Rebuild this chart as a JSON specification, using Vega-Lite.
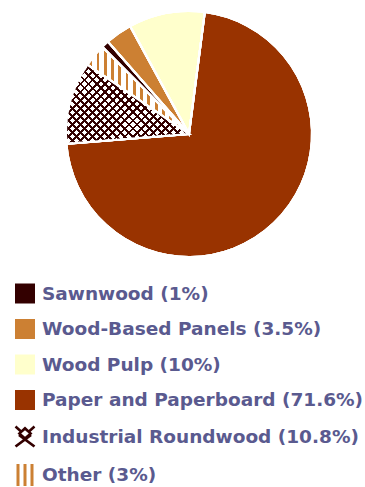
{
  "$schema": "https://vega.github.io/schema/vega-lite/v6.json",
  "width": 352,
  "height": 268,
  "autosize": "none",
  "padding": {"left": 13, "top": 0, "right": 0, "bottom": 219},
  "background": "white",
  "view": {"stroke": null},
  "data": {
    "values": [
      {"category": "Wood Pulp (10%)", "share": 10, "pos": 1},
      {"category": "Paper and Paperboard (71.6%)", "share": 71.6, "pos": 2},
      {"category": "Industrial Roundwood (10.8%)", "share": 10.8, "pos": 3},
      {"category": "Other (3%)", "share": 3, "pos": 4},
      {"category": "Sawnwood (1%)", "share": 1, "pos": 5},
      {"category": "Wood-Based Panels (3.5%)", "share": 3.5, "pos": 6}
    ]
  },
  "layer": [
    {
      "mark": {"type": "arc", "radius": 123, "stroke": "white", "strokeWidth": 2},
      "encoding": {
        "theta": {"field": "share", "type": "quantitative", "stack": true, "scale": {"range": [-0.5, 5.7832]}},
        "order": {"field": "pos", "type": "quantitative"},
        "color": {
          "field": "category",
          "type": "nominal",
          "scale": {
            "domain": ["Sawnwood (1%)", "Wood-Based Panels (3.5%)", "Wood Pulp (10%)", "Paper and Paperboard (71.6%)", "Industrial Roundwood (10.8%)", "Other (3%)"],
            "range": ["#330000", "#cc8033", "#ffffcc", "#993300", "#330000", "#cc8033"]
          },
          "legend": {
            "title": null,
            "orient": "none",
            "legendX": 2,
            "legendY": 283.5,
            "padding": 0,
            "symbolSize": 400,
            "symbolStrokeWidth": 0,
            "symbolOpacity": 1,
            "labelFont": "DejaVu Sans",
            "labelFontSize": 18.5,
            "labelFontWeight": "bold",
            "labelColor": "#5a5a8f",
            "labelOffset": 7,
            "labelLimit": 400,
            "rowPadding": 15.5
          }
        }
      }
    },
    {
      "mark": {"type": "arc", "radius": 123, "stroke": "white", "strokeWidth": 2},
      "encoding": {
        "theta": {"field": "share", "type": "quantitative", "stack": true},
        "order": {"field": "pos", "type": "quantitative"},
        "color": {
          "condition": [
            {
              "test": "datum.category === 'Industrial Roundwood (10.8%)'",
              "value": {
                "gradient": "linear", "x1": 0, "y1": 0, "x2": 1.163, "y2": 0.747,
                "stops": [
                  {"offset": 0, "color": "#330000"}, {"offset": 0.014, "color": "#330000"}, {"offset": 0.014, "color": "white"}, {"offset": 0.04, "color": "white"},
                  {"offset": 0.04, "color": "#330000"}, {"offset": 0.054, "color": "#330000"}, {"offset": 0.054, "color": "white"}, {"offset": 0.08, "color": "white"},
                  {"offset": 0.08, "color": "#330000"}, {"offset": 0.094, "color": "#330000"}, {"offset": 0.094, "color": "white"}, {"offset": 0.12, "color": "white"},
                  {"offset": 0.12, "color": "#330000"}, {"offset": 0.134, "color": "#330000"}, {"offset": 0.134, "color": "white"}, {"offset": 0.16, "color": "white"},
                  {"offset": 0.16, "color": "#330000"}, {"offset": 0.174, "color": "#330000"}, {"offset": 0.174, "color": "white"}, {"offset": 0.2, "color": "white"},
                  {"offset": 0.2, "color": "#330000"}, {"offset": 0.214, "color": "#330000"}, {"offset": 0.214, "color": "white"}, {"offset": 0.24, "color": "white"},
                  {"offset": 0.24, "color": "#330000"}, {"offset": 0.254, "color": "#330000"}, {"offset": 0.254, "color": "white"}, {"offset": 0.28, "color": "white"},
                  {"offset": 0.28, "color": "#330000"}, {"offset": 0.294, "color": "#330000"}, {"offset": 0.294, "color": "white"}, {"offset": 0.32, "color": "white"},
                  {"offset": 0.32, "color": "#330000"}, {"offset": 0.334, "color": "#330000"}, {"offset": 0.334, "color": "white"}, {"offset": 0.36, "color": "white"},
                  {"offset": 0.36, "color": "#330000"}, {"offset": 0.374, "color": "#330000"}, {"offset": 0.374, "color": "white"}, {"offset": 0.4, "color": "white"},
                  {"offset": 0.4, "color": "#330000"}, {"offset": 0.414, "color": "#330000"}, {"offset": 0.414, "color": "white"}, {"offset": 0.44, "color": "white"},
                  {"offset": 0.44, "color": "#330000"}, {"offset": 0.454, "color": "#330000"}, {"offset": 0.454, "color": "white"}, {"offset": 0.48, "color": "white"},
                  {"offset": 0.48, "color": "#330000"}, {"offset": 0.494, "color": "#330000"}, {"offset": 0.494, "color": "white"}, {"offset": 0.52, "color": "white"},
                  {"offset": 0.52, "color": "#330000"}, {"offset": 0.534, "color": "#330000"}, {"offset": 0.534, "color": "white"}, {"offset": 0.56, "color": "white"},
                  {"offset": 0.56, "color": "#330000"}, {"offset": 0.574, "color": "#330000"}, {"offset": 0.574, "color": "white"}, {"offset": 0.6, "color": "white"},
                  {"offset": 0.6, "color": "#330000"}, {"offset": 0.614, "color": "#330000"}, {"offset": 0.614, "color": "white"}, {"offset": 0.64, "color": "white"},
                  {"offset": 0.64, "color": "#330000"}, {"offset": 0.654, "color": "#330000"}, {"offset": 0.654, "color": "white"}, {"offset": 0.68, "color": "white"},
                  {"offset": 0.68, "color": "#330000"}, {"offset": 0.694, "color": "#330000"}, {"offset": 0.694, "color": "white"}, {"offset": 0.72, "color": "white"},
                  {"offset": 0.72, "color": "#330000"}, {"offset": 0.734, "color": "#330000"}, {"offset": 0.734, "color": "white"}, {"offset": 0.76, "color": "white"},
                  {"offset": 0.76, "color": "#330000"}, {"offset": 0.774, "color": "#330000"}, {"offset": 0.774, "color": "white"}, {"offset": 0.8, "color": "white"},
                  {"offset": 0.8, "color": "#330000"}, {"offset": 0.814, "color": "#330000"}, {"offset": 0.814, "color": "white"}, {"offset": 0.84, "color": "white"},
                  {"offset": 0.84, "color": "#330000"}, {"offset": 0.854, "color": "#330000"}, {"offset": 0.854, "color": "white"}, {"offset": 0.88, "color": "white"},
                  {"offset": 0.88, "color": "#330000"}, {"offset": 0.894, "color": "#330000"}, {"offset": 0.894, "color": "white"}, {"offset": 0.92, "color": "white"},
                  {"offset": 0.92, "color": "#330000"}, {"offset": 0.934, "color": "#330000"}, {"offset": 0.934, "color": "white"}, {"offset": 0.96, "color": "white"},
                  {"offset": 0.96, "color": "#330000"}, {"offset": 0.974, "color": "#330000"}, {"offset": 0.974, "color": "white"}, {"offset": 1, "color": "white"}
                ]
              }
            },
            {
              "test": "datum.category === 'Other (3%)'",
              "value": {
                "gradient": "linear", "x1": 0, "y1": 0, "x2": 1, "y2": 0,
                "stops": [
                  {"offset": 0, "color": "white"}, {"offset": 0.02, "color": "white"}, {"offset": 0.02, "color": "rgba(255,255,255,0)"}, {"offset": 0.047, "color": "rgba(255,255,255,0)"},
                  {"offset": 0.047, "color": "white"}, {"offset": 0.0914, "color": "white"}, {"offset": 0.0914, "color": "rgba(255,255,255,0)"}, {"offset": 0.1184, "color": "rgba(255,255,255,0)"},
                  {"offset": 0.1184, "color": "white"}, {"offset": 0.1629, "color": "white"}, {"offset": 0.1629, "color": "rgba(255,255,255,0)"}, {"offset": 0.1899, "color": "rgba(255,255,255,0)"},
                  {"offset": 0.1899, "color": "white"}, {"offset": 0.2343, "color": "white"}, {"offset": 0.2343, "color": "rgba(255,255,255,0)"}, {"offset": 0.2613, "color": "rgba(255,255,255,0)"},
                  {"offset": 0.2613, "color": "white"}, {"offset": 0.3057, "color": "white"}, {"offset": 0.3057, "color": "rgba(255,255,255,0)"}, {"offset": 0.3327, "color": "rgba(255,255,255,0)"},
                  {"offset": 0.3327, "color": "white"}, {"offset": 0.3771, "color": "white"}, {"offset": 0.3771, "color": "rgba(255,255,255,0)"}, {"offset": 0.4041, "color": "rgba(255,255,255,0)"},
                  {"offset": 0.4041, "color": "white"}, {"offset": 0.4486, "color": "white"}, {"offset": 0.4486, "color": "rgba(255,255,255,0)"}, {"offset": 0.4756, "color": "rgba(255,255,255,0)"},
                  {"offset": 0.4756, "color": "white"}, {"offset": 0.52, "color": "white"}, {"offset": 0.52, "color": "rgba(255,255,255,0)"}, {"offset": 0.547, "color": "rgba(255,255,255,0)"},
                  {"offset": 0.547, "color": "white"}, {"offset": 0.5914, "color": "white"}, {"offset": 0.5914, "color": "rgba(255,255,255,0)"}, {"offset": 0.6184, "color": "rgba(255,255,255,0)"},
                  {"offset": 0.6184, "color": "white"}, {"offset": 0.6629, "color": "white"}, {"offset": 0.6629, "color": "rgba(255,255,255,0)"}, {"offset": 0.6899, "color": "rgba(255,255,255,0)"},
                  {"offset": 0.6899, "color": "white"}, {"offset": 0.7343, "color": "white"}, {"offset": 0.7343, "color": "rgba(255,255,255,0)"}, {"offset": 0.7613, "color": "rgba(255,255,255,0)"},
                  {"offset": 0.7613, "color": "white"}, {"offset": 0.8057, "color": "white"}, {"offset": 0.8057, "color": "rgba(255,255,255,0)"}, {"offset": 0.8327, "color": "rgba(255,255,255,0)"},
                  {"offset": 0.8327, "color": "white"}, {"offset": 0.8771, "color": "white"}, {"offset": 0.8771, "color": "rgba(255,255,255,0)"}, {"offset": 0.9041, "color": "rgba(255,255,255,0)"},
                  {"offset": 0.9041, "color": "white"}, {"offset": 0.9486, "color": "white"}, {"offset": 0.9486, "color": "rgba(255,255,255,0)"}, {"offset": 0.9756, "color": "rgba(255,255,255,0)"},
                  {"offset": 0.9756, "color": "white"}, {"offset": 1, "color": "white"}
                ]
              }
            }
          ],
          "value": "transparent"
        }
      }
    },
    {
      "mark": {"type": "arc", "radius": 123, "stroke": "white", "strokeWidth": 2},
      "encoding": {
        "theta": {"field": "share", "type": "quantitative", "stack": true},
        "order": {"field": "pos", "type": "quantitative"},
        "color": {
          "condition": {
            "test": "datum.category === 'Industrial Roundwood (10.8%)'",
            "value": {
              "gradient": "linear", "x1": 0, "y1": 1, "x2": 1.163, "y2": 0.253,
              "stops": [
                {"offset": 0, "color": "#330000"}, {"offset": 0.014, "color": "#330000"}, {"offset": 0.014, "color": "rgba(51,0,0,0)"}, {"offset": 0.04, "color": "rgba(51,0,0,0)"},
                {"offset": 0.04, "color": "#330000"}, {"offset": 0.054, "color": "#330000"}, {"offset": 0.054, "color": "rgba(51,0,0,0)"}, {"offset": 0.08, "color": "rgba(51,0,0,0)"},
                {"offset": 0.08, "color": "#330000"}, {"offset": 0.094, "color": "#330000"}, {"offset": 0.094, "color": "rgba(51,0,0,0)"}, {"offset": 0.12, "color": "rgba(51,0,0,0)"},
                {"offset": 0.12, "color": "#330000"}, {"offset": 0.134, "color": "#330000"}, {"offset": 0.134, "color": "rgba(51,0,0,0)"}, {"offset": 0.16, "color": "rgba(51,0,0,0)"},
                {"offset": 0.16, "color": "#330000"}, {"offset": 0.174, "color": "#330000"}, {"offset": 0.174, "color": "rgba(51,0,0,0)"}, {"offset": 0.2, "color": "rgba(51,0,0,0)"},
                {"offset": 0.2, "color": "#330000"}, {"offset": 0.214, "color": "#330000"}, {"offset": 0.214, "color": "rgba(51,0,0,0)"}, {"offset": 0.24, "color": "rgba(51,0,0,0)"},
                {"offset": 0.24, "color": "#330000"}, {"offset": 0.254, "color": "#330000"}, {"offset": 0.254, "color": "rgba(51,0,0,0)"}, {"offset": 0.28, "color": "rgba(51,0,0,0)"},
                {"offset": 0.28, "color": "#330000"}, {"offset": 0.294, "color": "#330000"}, {"offset": 0.294, "color": "rgba(51,0,0,0)"}, {"offset": 0.32, "color": "rgba(51,0,0,0)"},
                {"offset": 0.32, "color": "#330000"}, {"offset": 0.334, "color": "#330000"}, {"offset": 0.334, "color": "rgba(51,0,0,0)"}, {"offset": 0.36, "color": "rgba(51,0,0,0)"},
                {"offset": 0.36, "color": "#330000"}, {"offset": 0.374, "color": "#330000"}, {"offset": 0.374, "color": "rgba(51,0,0,0)"}, {"offset": 0.4, "color": "rgba(51,0,0,0)"},
                {"offset": 0.4, "color": "#330000"}, {"offset": 0.414, "color": "#330000"}, {"offset": 0.414, "color": "rgba(51,0,0,0)"}, {"offset": 0.44, "color": "rgba(51,0,0,0)"},
                {"offset": 0.44, "color": "#330000"}, {"offset": 0.454, "color": "#330000"}, {"offset": 0.454, "color": "rgba(51,0,0,0)"}, {"offset": 0.48, "color": "rgba(51,0,0,0)"},
                {"offset": 0.48, "color": "#330000"}, {"offset": 0.494, "color": "#330000"}, {"offset": 0.494, "color": "rgba(51,0,0,0)"}, {"offset": 0.52, "color": "rgba(51,0,0,0)"},
                {"offset": 0.52, "color": "#330000"}, {"offset": 0.534, "color": "#330000"}, {"offset": 0.534, "color": "rgba(51,0,0,0)"}, {"offset": 0.56, "color": "rgba(51,0,0,0)"},
                {"offset": 0.56, "color": "#330000"}, {"offset": 0.574, "color": "#330000"}, {"offset": 0.574, "color": "rgba(51,0,0,0)"}, {"offset": 0.6, "color": "rgba(51,0,0,0)"},
                {"offset": 0.6, "color": "#330000"}, {"offset": 0.614, "color": "#330000"}, {"offset": 0.614, "color": "rgba(51,0,0,0)"}, {"offset": 0.64, "color": "rgba(51,0,0,0)"},
                {"offset": 0.64, "color": "#330000"}, {"offset": 0.654, "color": "#330000"}, {"offset": 0.654, "color": "rgba(51,0,0,0)"}, {"offset": 0.68, "color": "rgba(51,0,0,0)"},
                {"offset": 0.68, "color": "#330000"}, {"offset": 0.694, "color": "#330000"}, {"offset": 0.694, "color": "rgba(51,0,0,0)"}, {"offset": 0.72, "color": "rgba(51,0,0,0)"},
                {"offset": 0.72, "color": "#330000"}, {"offset": 0.734, "color": "#330000"}, {"offset": 0.734, "color": "rgba(51,0,0,0)"}, {"offset": 0.76, "color": "rgba(51,0,0,0)"},
                {"offset": 0.76, "color": "#330000"}, {"offset": 0.774, "color": "#330000"}, {"offset": 0.774, "color": "rgba(51,0,0,0)"}, {"offset": 0.8, "color": "rgba(51,0,0,0)"},
                {"offset": 0.8, "color": "#330000"}, {"offset": 0.814, "color": "#330000"}, {"offset": 0.814, "color": "rgba(51,0,0,0)"}, {"offset": 0.84, "color": "rgba(51,0,0,0)"},
                {"offset": 0.84, "color": "#330000"}, {"offset": 0.854, "color": "#330000"}, {"offset": 0.854, "color": "rgba(51,0,0,0)"}, {"offset": 0.88, "color": "rgba(51,0,0,0)"},
                {"offset": 0.88, "color": "#330000"}, {"offset": 0.894, "color": "#330000"}, {"offset": 0.894, "color": "rgba(51,0,0,0)"}, {"offset": 0.92, "color": "rgba(51,0,0,0)"},
                {"offset": 0.92, "color": "#330000"}, {"offset": 0.934, "color": "#330000"}, {"offset": 0.934, "color": "rgba(51,0,0,0)"}, {"offset": 0.96, "color": "rgba(51,0,0,0)"},
                {"offset": 0.96, "color": "#330000"}, {"offset": 0.974, "color": "#330000"}, {"offset": 0.974, "color": "rgba(51,0,0,0)"}, {"offset": 1, "color": "rgba(51,0,0,0)"}
              ]
            }
          },
          "value": "transparent"
        }
      }
    },
    {
      "mark": {"type": "point", "filled": true, "opacity": 0, "size": 400},
      "encoding": {
        "color": {
          "field": "category",
          "type": "nominal",
          "scale": {
            "domain": ["Sawnwood (1%)", "Wood-Based Panels (3.5%)", "Wood Pulp (10%)", "Paper and Paperboard (71.6%)", "Industrial Roundwood (10.8%)", "Other (3%)"],
            "range": ["#330000", "#cc8033", "#ffffcc", "#993300", "#330000", "#cc8033"]
          },
          "legend": {
            "title": null,
            "orient": "none",
            "legendX": 2,
            "legendY": 283.5,
            "padding": 0,
            "symbolSize": 400,
            "symbolStrokeWidth": 0,
            "symbolOpacity": 1,
            "labelFont": "DejaVu Sans",
            "labelFontSize": 18.5,
            "labelFontWeight": "bold",
            "labelColor": "#5a5a8f",
            "labelOffset": 7,
            "labelLimit": 400,
            "rowPadding": 15.5
          }
        },
        "shape": {
          "field": "category",
          "type": "nominal",
          "scale": {
            "domain": ["Sawnwood (1%)", "Wood-Based Panels (3.5%)", "Wood Pulp (10%)", "Paper and Paperboard (71.6%)", "Industrial Roundwood (10.8%)", "Other (3%)"],
            "range": [
              "square", "square", "square", "square",
              "M0,-1 L-0.75,-0.3 L0,0.4 L0.75,-0.3 Z M0,-0.62 L0.38,-0.3 L0,0.02 L-0.38,-0.3 Z M-0.683,-0.038 L0.867,1.112 L1.033,0.888 L-0.517,-0.262 Z M0.517,-0.262 L-1.033,0.888 L-0.867,1.112 L0.683,-0.038 Z M-1.034,-0.907 L-0.534,-0.457 L-0.366,-0.643 L-0.866,-1.093 Z M0.866,-1.093 L0.366,-0.643 L0.534,-0.457 L1.034,-0.907 Z",
              "M-0.85,-1.1 H-0.55 V1.1 H-0.85 Z M-0.15,-1.1 H0.15 V1.1 H-0.15 Z M0.55,-1.1 H0.85 V1.1 H0.55 Z"
            ]
          },
          "legend": {
            "title": null,
            "orient": "none",
            "legendX": 2,
            "legendY": 283.5,
            "padding": 0,
            "symbolSize": 400,
            "symbolStrokeWidth": 0,
            "symbolOpacity": 1,
            "labelFont": "DejaVu Sans",
            "labelFontSize": 18.5,
            "labelFontWeight": "bold",
            "labelColor": "#5a5a8f",
            "labelOffset": 7,
            "labelLimit": 400,
            "rowPadding": 15.5
          }
        }
      }
    }
  ]
}
